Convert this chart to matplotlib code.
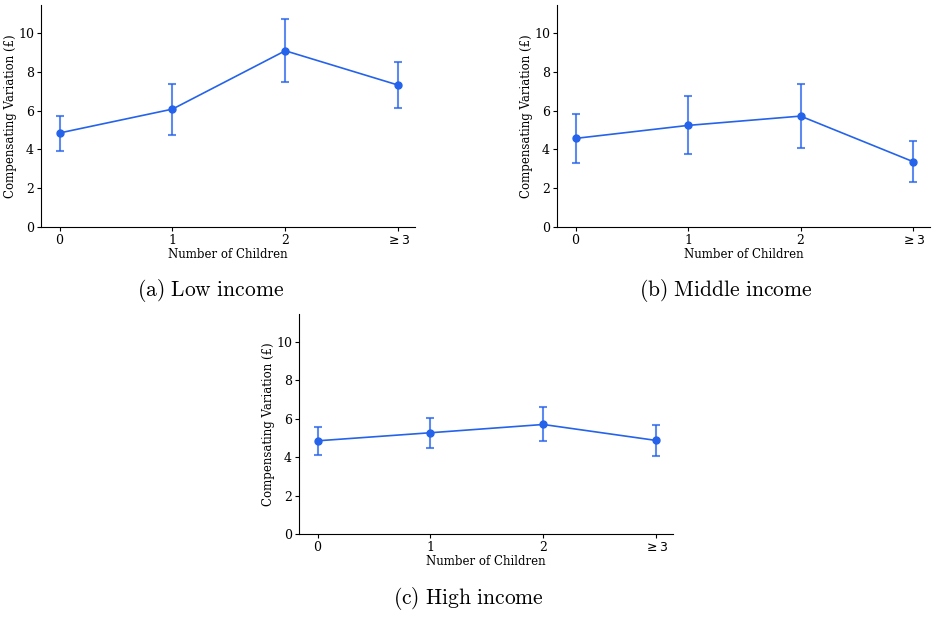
import matplotlib
matplotlib.use("Agg")
import matplotlib.pyplot as plt

categories = ["0", "1", "2", r"$\geq 3$"]

low_mean = [4.85, 6.08, 9.09, 7.32]
low_upper = [5.74, 7.39, 10.72, 8.51]
low_lower = [3.93, 4.76, 7.49, 6.15]

mid_mean = [4.57, 5.24, 5.72, 3.37]
mid_upper = [5.84, 6.74, 7.35, 4.43]
mid_lower = [3.28, 3.76, 4.07, 2.32]

high_mean = [4.85, 5.27, 5.70, 4.87]
high_upper = [5.56, 6.06, 6.59, 5.66]
high_lower = [4.11, 4.49, 4.84, 4.08]

captions = [r"$\mathrm{(a)\ Low\ income}$", r"$\mathrm{(b)\ Middle\ income}$",
            r"$\mathrm{(c)\ High\ income}$"]

plt.rcParams["font.family"] = ["DejaVu Serif"]
plt.rcParams["mathtext.fontset"] = "dejavusans"

color = "#2563eb"
fig = plt.figure(figsize=(9.37, 6.17), dpi=100)
W, H = 937, 617

# axes rects in pixel coords: left, right, top, bottom
rects = [
    (41, 415, 5, 227),
    (557, 930, 5, 227),
    (299, 673, 314, 534),
]
cap_pos = [(211, 291), (726, 291), (468, 599)]
series = [
    (low_mean, low_upper, low_lower),
    (mid_mean, mid_upper, mid_lower),
    (high_mean, high_upper, high_lower),
]

for (l, r, t, b), (m, up, lo), cap, (cx, cy) in zip(rects, series, captions, cap_pos):
    ax = fig.add_axes([l / W, 1 - b / H, (r - l) / W, (b - t) / H])
    x = list(range(len(categories)))
    yerr = [[mi - li for mi, li in zip(m, lo)], [ui - mi for mi, ui in zip(m, up)]]
    ax.errorbar(x, m, yerr=yerr, fmt="none", ecolor=color, alpha=0.75,
                elinewidth=1.5, capsize=3, capthick=1.5)
    ax.plot(x, m, color=color, lw=1.2, marker="o", ms=5)
    ax.set_ylim(0, 11.45)
    ax.set_xlim(-0.165, 3.15)
    ax.set_yticks([0, 2, 4, 6, 8, 10])
    ax.set_xticks(x)
    ax.set_xticklabels(categories)
    ax.tick_params(labelsize=9, length=3, pad=2)
    ax.set_xlabel("Number of Children", fontsize=8.5, labelpad=1)
    ax.set_ylabel("Compensating Variation (£)", fontsize=8.5)
    ax.yaxis.set_label_coords(-0.064, 0.5)
    for s in ["top", "right"]:
        ax.spines[s].set_visible(False)
    fig.text(cx / W, 1 - cy / H, cap, ha="center", va="center", fontsize=15.5,
             math_fontfamily="cm")

fig.savefig("out.png", dpi=100)
